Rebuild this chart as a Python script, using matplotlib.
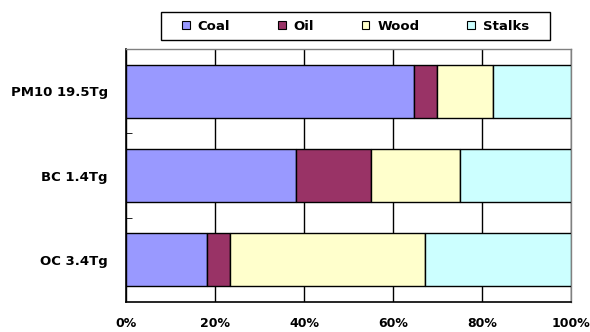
import numpy as np
import matplotlib.pyplot as plt
from matplotlib.patches import Patch, Rectangle

# share of each source, percent
categories = ["PM10 19.5Tg", "BC 1.4Tg", "OC 3.4Tg"]
sources = ["Coal", "Oil", "Wood", "Stalks"]
coal = [64.7, 38.3, 18.1]
oil = [5.2, 16.8, 5.3]
wood = [12.6, 20.0, 43.9]
stalks = [17.5, 24.9, 32.7]
colors = ["#9999FF", "#993366", "#FFFFCC", "#CCFFFF"]

plt.rcParams['font.family'] = ['DejaVu Sans']
plt.rcParams['font.weight'] = 'bold'

fig = plt.figure(figsize=(5.9, 3.32), dpi=100)
ax = fig.add_axes([126/590, 1 - 302/332, 445/590, 253/332])

y = np.arange(len(categories))
left = np.zeros(len(categories))
for name, vals, c in zip(sources, [coal, oil, wood, stalks], colors):
    ax.barh(y, vals, left=left, height=0.63, color=c, edgecolor='black',
            linewidth=1, label=name, zorder=3)
    left += np.array(vals)

ax.set_xlim(0, 100)
ax.set_ylim(2.5, -0.5)
ax.set_xticks(np.arange(0, 101, 20))
ax.set_xticklabels([f"{v}%" for v in range(0, 101, 20)], fontsize=9, fontweight='bold')
ax.set_yticks(y)
ax.set_yticklabels(categories, fontsize=9.5, fontweight='bold')
ax.set_yticks([0.5, 1.5], minor=True)
ax.tick_params(axis='y', which='major', length=0, pad=13)
ax.tick_params(axis='y', which='minor', length=4, direction='in')
ax.tick_params(axis='x', length=0, pad=11)
ax.grid(axis='x', color='black', linewidth=1, zorder=0)

for s in ['left', 'bottom']:
    ax.spines[s].set_color('black')
    ax.spines[s].set_linewidth(1.2)
for s in ['top', 'right']:
    ax.spines[s].set_color('#808080')
    ax.spines[s].set_linewidth(1)

# legend box across the top
fig.patches.append(Rectangle((161/590, 1 - 40/332), 389/590, 28/332,
                             transform=fig.transFigure, fill=False,
                             edgecolor='black', linewidth=1))
handles = [Patch(facecolor=c, edgecolor='black', linewidth=0.8) for c in colors]
leg = fig.legend(handles, sources, loc='center', ncol=4,
                 bbox_to_anchor=((161 + 194.5)/590, 1 - 26/332),
                 fontsize=9.5, frameon=False,
                 handlelength=0.6, handleheight=0.6, handletextpad=0.6,
                 columnspacing=3.6, borderpad=0)
for t in leg.get_texts():
    t.set_fontweight('bold')

fig.savefig("out.png", dpi=100)
